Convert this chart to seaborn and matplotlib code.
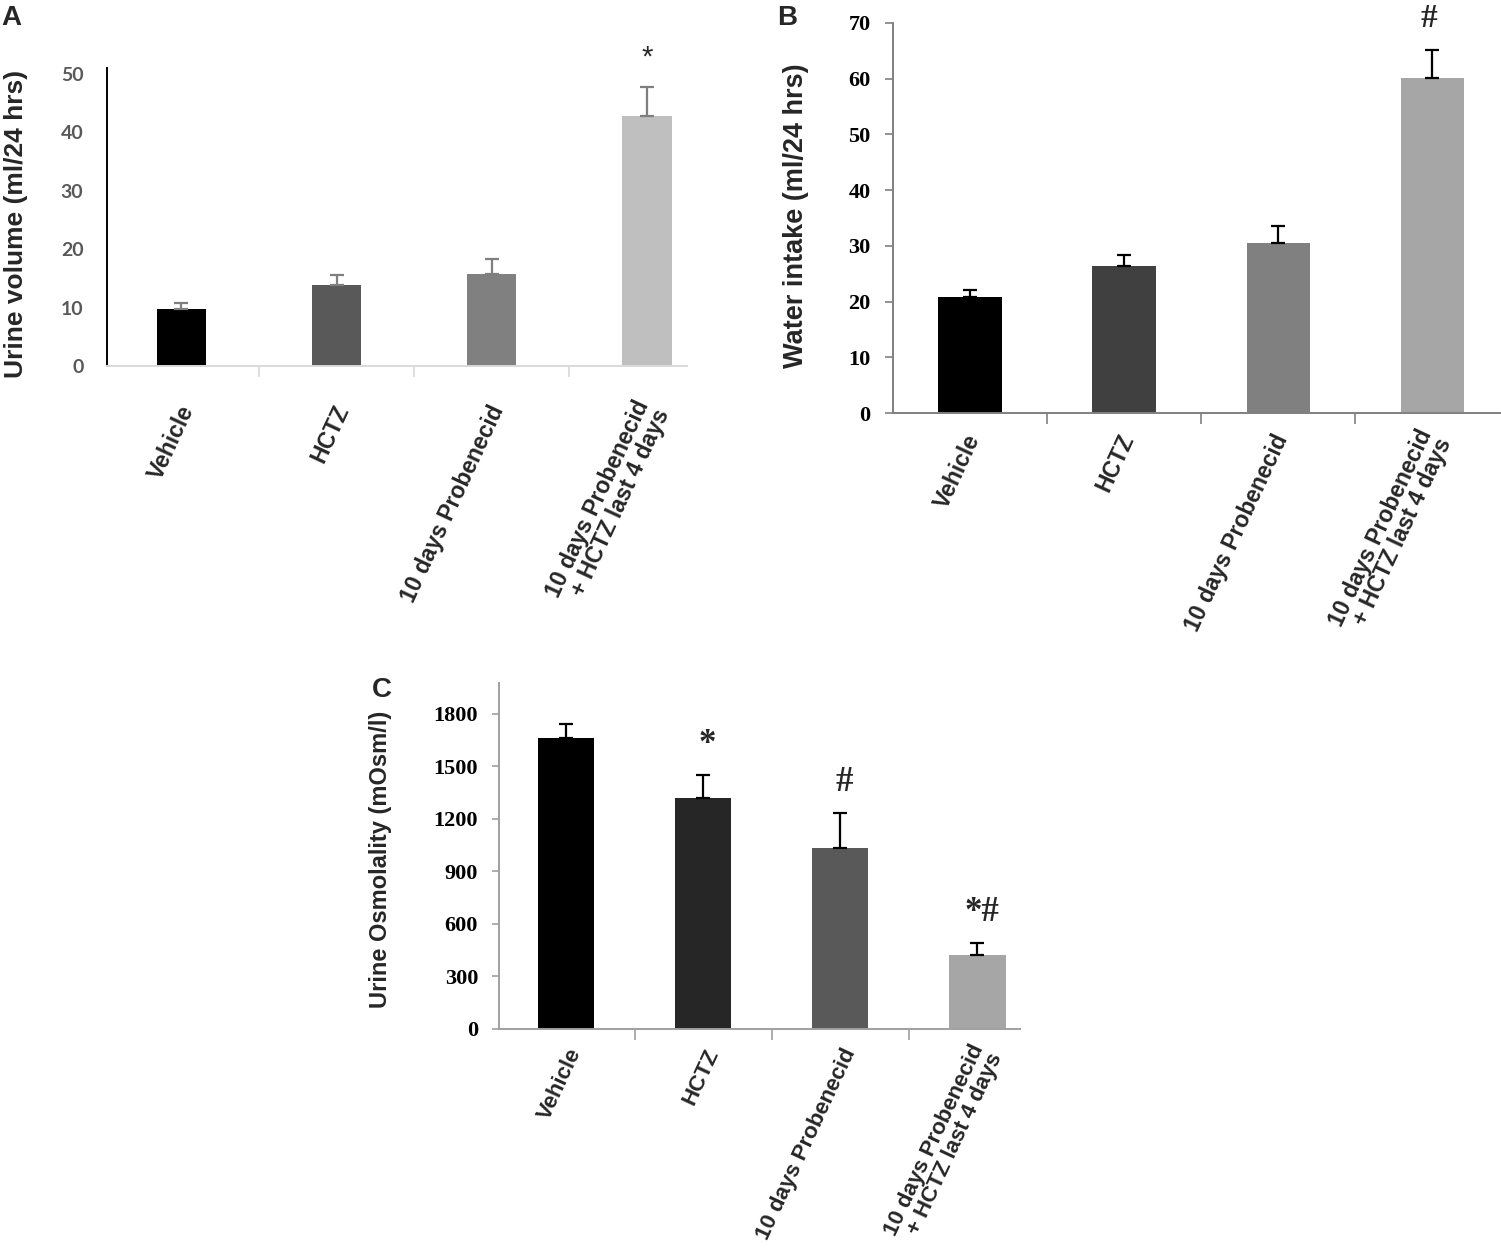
import numpy as np
import pandas as pd
import seaborn as sns
import matplotlib.pyplot as plt
import matplotlib.transforms as mtransforms

# =========================
# Data
# =========================

groups = ["Vehicle", "HCTZ", "10 days Probenecid",
          "10 days Probenecid\n+ HCTZ last 4 days"]

urine_volume = [9.8, 13.8, 15.8, 42.7]
urine_volume_err = [1.0, 1.7, 2.5, 5.1]

water_intake = [20.8, 26.4, 30.6, 60.1]
water_intake_err = [1.2, 1.9, 3.0, 5.1]

osmolality = [1665, 1320, 1035, 425]
osmolality_err = [75, 130, 200, 65]

marks_a = ["", "", "", "*"]
marks_b = ["", "", "", "#"]
marks_c = ["", "*", "#", "*#"]

sns.set_style("white")
plt.rcParams["font.family"] = ["Liberation Sans", "DejaVu Sans"]

fig = plt.figure(figsize=(15.01, 12.55), dpi=100)


def draw_panel(rect, values, errs, colors, ylim, xlim, yticks, bar_w,
               ylabel, ylabel_size, ylabel_xy, err_color, tick_font,
               tick_color, tick_size, axis_colors, ytick_len, ypad,
               xpad, xshift, xlab_size):
    ax = fig.add_axes(rect)
    df = pd.DataFrame({"group": groups, "value": values})
    sns.barplot(data=df, x="group", y="value", hue="group",
                palette=colors, width=bar_w, errorbar=None,
                legend=False, ax=ax, edgecolor="none")
    ax.errorbar(range(len(values)), values,
                yerr=[np.zeros(len(errs)), errs],
                fmt="none", ecolor=err_color, elinewidth=1.6,
                capsize=5, capthick=1.6)
    ax.set_xlim(*xlim)
    ax.set_ylim(*ylim)
    ax.set_yticks(yticks)
    ax.set_yticklabels([str(t) for t in yticks], fontfamily=tick_font,
                       fontweight="bold", color=tick_color,
                       fontsize=tick_size)
    ax.tick_params(axis="y", length=ytick_len, width=1.2,
                   color=axis_colors[0], pad=ypad, left=ytick_len > 0)
    # group separators on x axis
    ax.set_xticks([0.5, 1.5, 2.5], minor=True)
    ax.tick_params(axis="x", which="minor", length=8, width=1.2,
                   color=axis_colors[1], bottom=True, direction="out")
    ax.set_xticks(range(len(groups)))
    ax.set_xticklabels(groups, rotation=65, ha="right", va="center",
                       rotation_mode="anchor", fontsize=xlab_size,
                       fontweight="bold", linespacing=0.95)
    ax.tick_params(axis="x", which="major", length=0, pad=xpad)
    shift = mtransforms.ScaledTranslation(xshift, 0, fig.dpi_scale_trans)
    for lab in ax.get_xticklabels():
        lab.set_transform(lab.get_transform() + shift)
    ax.set_xlabel("")
    ax.set_ylabel(ylabel, fontsize=ylabel_size, fontweight="bold")
    ax.yaxis.set_label_coords(*ylabel_xy)
    for s in ["top", "right"]:
        ax.spines[s].set_visible(False)
    ax.spines["left"].set_color(axis_colors[0])
    ax.spines["bottom"].set_color(axis_colors[1])
    ax.spines["left"].set_linewidth(1.4)
    ax.spines["bottom"].set_linewidth(1.4)
    return ax


# =========================
# Panel A
# =========================

ax_a = draw_panel([0.0713, 0.7084, 0.3864, 0.2375], urine_volume,
                  urine_volume_err,
                  ["#000000", "#595959", "#808080", "#bfbfbf"],
                  (0, 51), (-0.48, 3.26), [0, 10, 20, 30, 40, 50], 0.32,
                  "Urine volume (ml/24 hrs)", 19, (-0.136, 0.477),
                  "#7f7f7f", "Lato", "#595959", 14,
                  ("#000000", "#d9d9d9"), 0, 17, 29, 0.07, 16.5)
for i, m in enumerate(marks_a):
    if m:
        ax_a.text(i, urine_volume[i] + urine_volume_err[i] + 2.5, m,
                  ha="center", va="bottom", fontsize=21)

# =========================
# Panel B
# =========================

ax_b = draw_panel([0.5949, 0.6709, 0.4044, 0.3108], water_intake,
                  water_intake_err,
                  ["#000000", "#404040", "#808080", "#a6a6a6"],
                  (0, 70), (-0.5, 3.44), list(range(0, 71, 10)), 0.41,
                  "Water intake (ml/24 hrs)", 19.5, (-0.138, 0.505),
                  "#000000", "Liberation Serif", "#000000", 16,
                  ("#808080", "#808080"), 6, 10, 16, 0.04, 16.5)
for i, m in enumerate(marks_b):
    if m:
        ax_b.text(i - 0.02, water_intake[i] + water_intake_err[i] + 4.1, m,
                  ha="center", va="baseline", fontsize=24,
                  fontweight="bold", fontfamily="Liberation Serif",
                  clip_on=False)

# =========================
# Panel C
# =========================

ax_c = draw_panel([0.3324, 0.1801, 0.3471, 0.2757], osmolality,
                  osmolality_err,
                  ["#000000", "#262626", "#595959", "#a6a6a6"],
                  (0, 1977), (-0.49, 3.31), list(range(0, 1801, 300)), 0.41,
                  "Urine Osmolality (mOsm/l)", 17, (-0.205, 0.49),
                  "#000000", "Liberation Serif", "#000000", 16,
                  ("#a0a0a0", "#a0a0a0"), 5, 10, 15, 0.1, 16)
for i, m in enumerate(marks_c):
    if m:
        ax_c.text(i + 0.03, osmolality[i] + osmolality_err[i] + 125, m,
                  ha="center", va="baseline", fontsize=25,
                  fontweight="bold", fontfamily="Liberation Serif")

# =========================
# Panel letters
# =========================

fig.text(0.001, 0.980, "A", fontsize=20, fontweight="bold", va="baseline")
fig.text(0.5177, 0.980, "B", fontsize=20, fontweight="bold", va="baseline")
fig.text(0.2478, 0.4446, "C", fontsize=20, fontweight="bold", va="baseline")

fig.savefig("out.png", dpi=100)
